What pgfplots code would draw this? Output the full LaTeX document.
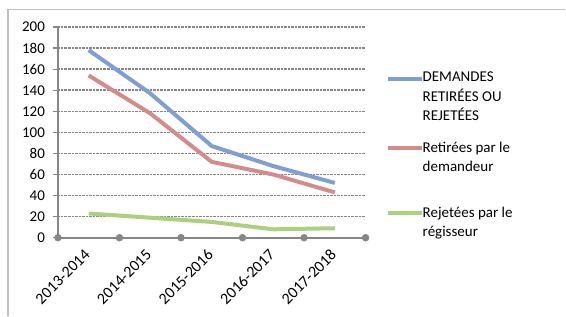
\documentclass[border=0pt]{standalone}
\usepackage{fontspec}
\setmainfont{Carlito}
\usepackage{pgfplots}
\pgfplotsset{compat=1.18}
\definecolor{cblue}{HTML}{7F9ED6}
\definecolor{cred}{HTML}{D48C8A}
\definecolor{cgreen}{HTML}{ADCF7F}
\definecolor{lgray}{HTML}{BFBFBF}
\definecolor{agray}{HTML}{868686}
\begin{document}
\begin{tikzpicture}[x=1bp,y=1bp]
\path (0,0) rectangle (566,316);
\draw[color=lgray, line width=1.3bp] (8,0) -- (8,306.5) -- (566,306.5);
\begin{axis}[
  at={(58bp,78bp)}, anchor=south west,
  scale only axis, width=308bp, height=211bp,
  xmin=-0.5, xmax=4.5, ymin=0, ymax=200,
  clip=false,
  axis lines*=left,
  axis line style={agray, line width=1.8bp},
  ytick={0,20,...,200},
  xtick={0,1,2,3,4},
  xticklabels={2013-2014,2014-2015,2015-2016,2016-2017,2017-2018},
  x tick style={draw=none},
  y tick style={agray, line width=1.2bp},
  major tick length=5bp,
  tick align=outside,
  ymajorgrids,
  grid style={agray, densely dotted, line width=1.4bp},
  tick label style={font=\fontsize{15bp}{18bp}\selectfont, text=black},
  /pgf/number format/assume math mode=true,
  xticklabel style={rotate=45, anchor=east, font=\fontsize{16bp}{18bp}\selectfont, xshift=1.5bp},
  xticklabel shift=8bp,
  yticklabel shift=4.5bp,
]
\addplot[cblue, line width=4bp] coordinates {(0,178) (1,137) (2,87) (3,68) (4,52)};
\addplot[cred, line width=4bp] coordinates {(0,154) (1,118) (2,72) (3,60) (4,43)};
\addplot[cgreen, line width=4bp] coordinates {(0,23) (1,19) (2,15) (3,8) (4,9)};
\addplot[only marks, mark=*, mark size=3.5bp, agray] coordinates {(-0.5,0) (0.5,0) (1.5,0) (2.5,0) (3.5,0) (4.5,0)};
\end{axis}
% legend
\begin{scope}[every node/.style={anchor=base west, inner sep=0pt, font=\fontsize{15bp}{18bp}\selectfont}]
\draw[cblue, line width=4bp] (388,237) -- (422,237);
\node at (423,234) {DEMANDES};
\node at (423,214.5) {RETIRÉES OU};
\node at (423,195) {REJETÉES};
\draw[cred, line width=4bp] (388,168) -- (422,168);
\node at (423,163.5) {Retirées par le};
\node at (423,144) {demandeur};
\draw[cgreen, line width=4bp] (388,103) -- (422,103);
\node at (423,98.5) {Rejetées par le};
\node at (423,79) {régisseur};
\end{scope}
\end{tikzpicture}
\end{document}
